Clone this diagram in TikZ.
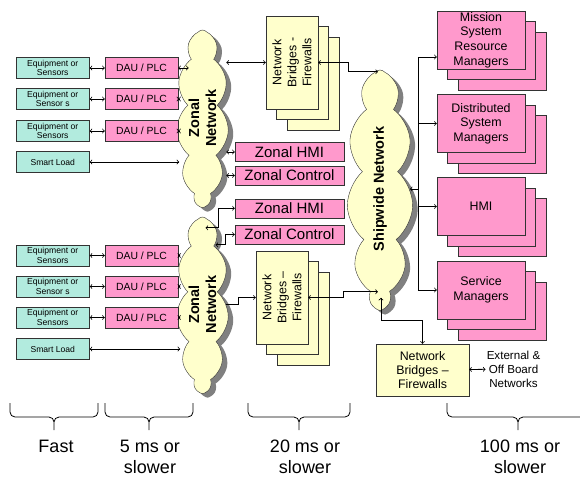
\documentclass[tikz,border=0pt]{standalone}
\usepackage{fontspec}
\setmainfont{Liberation Sans}
\usetikzlibrary{shapes.symbols,calc}

\definecolor{sensteal}{RGB}{178,235,222}
\definecolor{daupink}{RGB}{255,153,204}
\definecolor{bridgeyel}{RGB}{255,255,204}
\definecolor{shadegrey}{RGB}{128,128,128}

\tikzset{
	eqbox/.style={draw=black!80,fill=sensteal,inner sep=0pt,minimum width=73.5pt,minimum height=21pt,align=center,font=\fontsize{8.6}{9.4}\selectfont},
	daubox/.style={draw=black!80,fill=daupink,inner sep=0pt,minimum width=73pt,minimum height=21pt,font=\fontsize{10.4}{12}\selectfont},
	zbox/.style={draw=black!80,fill=daupink,inner sep=0pt,minimum width=109pt,minimum height=19pt,font=\fontsize{15}{17}\selectfont},
	mgrbox/.style={draw=black!80,fill=daupink,inner sep=0pt,minimum width=88pt,minimum height=58pt,align=center,font=\fontsize{12.4}{14.6}\selectfont},
	nbbox/.style={draw=black!80,fill=bridgeyel,inner sep=0pt,minimum width=52pt,minimum height=93pt},
	nbtext/.style={rotate=90,align=center,font=\fontsize{12.4}{15}\selectfont},
	netcloud/.style={cloud,cloud puffs=11,cloud puff arc=100,cloud ignores aspect,draw=black!80,fill=bridgeyel,inner sep=0pt},
	cloudshade/.style={netcloud,draw=none,fill=shadegrey},
	cloudtext/.style={rotate=90,align=center,font=\bfseries\fontsize{14.5}{17}\selectfont},
	timetext/.style={anchor=north,inner sep=0pt,align=center,font=\fontsize{18}{21}\selectfont},
	link/.style={line width=.8pt,>=to}
}

\begin{document}
\begin{tikzpicture}[x=1pt,y=-1pt]
	\useasboundingbox (0,0) rectangle (580,477);

	% network clouds
	\node [cloudshade,minimum width=52pt,minimum height=176pt] (zone1sh) at (207.5,122) {};
	\node [netcloud,minimum width=52pt,minimum height=176pt] (zone1) at (202.5,118) {};
	\node [cloudtext] (zone1txt) at (zone1) {Zonal\\Network};
	\node [cloudshade,minimum width=52pt,minimum height=175pt] (zone2sh) at (207.5,308.5) {};
	\node [netcloud,minimum width=52pt,minimum height=175pt] (zone2) at (202.5,304.5) {};
	\node [cloudtext] (zone2txt) at (zone2) {Zonal\\Network};
	\node [cloudshade,minimum width=66pt,minimum height=238pt] (shipsh) at (385,193) {};
	\node [netcloud,minimum width=66pt,minimum height=238pt] (ship) at (380,189) {};
	\node [cloudtext] (shiptxt) at (ship) {Shipwide Network};

	% upper zone
	\node [eqbox] (eq1) at (52.75,68) {Equipment or\\Sensors};
	\node [eqbox] (eq2) at (52.75,99) {Equipment or\\Sensor s};
	\node [eqbox] (eq3) at (52.75,131) {Equipment or\\Sensors};
	\node [eqbox] (load1) at (52.75,162) {Smart Load};
	\node [daubox] (dau1) at (141.5,68) {DAU / PLC};
	\node [daubox] (dau2) at (141.5,99) {DAU / PLC};
	\node [daubox] (dau3) at (141.5,131) {DAU / PLC};

	% lower zone
	\node [eqbox] (eq4) at (52.75,255.5) {Equipment or\\Sensors};
	\node [eqbox] (eq5) at (52.75,286.5) {Equipment or\\Sensor s};
	\node [eqbox] (eq6) at (52.75,317.5) {Equipment or\\Sensors};
	\node [eqbox] (load2) at (52.75,349) {Smart Load};
	\node [daubox] (dau4) at (141.5,255.5) {DAU / PLC};
	\node [daubox] (dau5) at (141.5,286.5) {DAU / PLC};
	\node [daubox] (dau6) at (141.5,317.5) {DAU / PLC};

	\node [zbox] (zhmi1) at (289.5,152) {Zonal HMI};
	\node [zbox] (zctl1) at (289.5,175.5) {Zonal Control};
	\node [zbox] (zhmi2) at (289.5,208.3) {Zonal HMI};
	\node [zbox] (zctl2) at (289.5,234.5) {Zonal Control};

	% bridge stacks
	\foreach \d/\k in {21/c,10.5/b} {
		\node [nbbox] (nbtop\k) at ([xshift=\d pt,yshift=-\d pt]292,62.5) {};
		\node [nbbox] (nbbot\k) at ([xshift=\d pt,yshift=-\d pt]282,297.5) {};
	}
	\node [nbbox] (nbtop) at (292,62.5) {};
	\node [nbtext] (nbtoptxt) at (nbtop) {Network\\Bridges -\\Firewalls};
	\node [nbbox] (nbbot) at (282,297.5) {};
	\node [nbtext] (nbbottxt) at (nbbot) {Network\\Bridges --\\Firewalls};

	% manager stacks
	\foreach \n/\y/\t in {msrm/40/{Mission\\System\\Resource\\Managers},dsm/123.5/{Distributed\\System\\Managers},hmi/206.5/HMI,svc/290/{Service\\Managers}} {
		\node [mgrbox] (\n3) at (502,\y+21) {};
		\node [mgrbox] (\n2) at (491.5,\y+10.5) {};
		\node [mgrbox] (\n) at (481,\y) {\t};
	}

	\node [nbbox,minimum width=93pt,minimum height=52pt,align=center,font=\fontsize{12.4}{14}\selectfont] (nbext) at (422.5,370) {Network\\Bridges --\\Firewalls};
	\node [align=center,inner sep=1pt,font=\fontsize{11.6}{14}\selectfont] (extnet) at (513.5,369) {External \&\\Off Board\\Networks};

	% links
	\foreach \i in {1,...,3} \draw [link,<->] (eq\i) -- (dau\i);
	\foreach \i in {4,...,6} \draw [link,<->] (eq\i) -- (dau\i);
	\draw [link,<->] (dau1) -- ($(dau1 -| zone1.west)+(10,0)$);
	\draw [link,<->] (dau2) -- ($(dau2 -| zone1.west)+(.5,0)$);
	\draw [link,<->] (dau3) -- ($(dau3 -| zone1.west)+(.5,0)$);
	\draw [link,<->] (load1) -- ($(load1 -| zone1.west)+(.5,0)$);
	\draw [link,<->] (dau4) -- ($(dau4 -| zone2.west)+(1.5,0)$);
	\draw [link,<->] (dau5) -- ($(dau5 -| zone2.west)+(1.5,0)$);
	\draw [link,<->] (dau6) -- ($(dau6 -| zone2.west)+(1.5,0)$);
	\draw [link,<->] (load2) -- ($(load2 -| zone2.west)+(1.5,0)$);

	\draw [link,<->] (zhmi1 -| zone1.east) -- (zhmi1);
	\draw [link,<->] (zctl1 -| zone1.east) -- (zctl1);
	\draw [link,<->] ($(zone2.north)+(3,11)$) -- ++(13,0) |- (zhmi2);
	\draw [link,<->] ($(zone2.north)+(13,28)$) -- ++(10,0) |- (zctl2);

	\draw [link,<->] (nbtop -| zone1.east) -- (nbtop);
	\draw [link,<->] (nbtop.east) -- ++(30,0) |- ($(ship.north)+(-2,2)$);
	\draw [link,->] (zone2.east) -- ++(12,0) |- (nbbot);
	\draw [link,<->] (nbbot.east) -- ++(35,0) |- ($(ship.south)+(-2,-19)$);
	\draw [link,<->] ($(ship.south)+(1,-13)$) -- ++(0,23) -| (nbext);
	\draw [link,<->] (nbext) -- (extnet);

	\draw [link,<-] (ship.east) -- ++(8,0) coordinate (bus);
	\coordinate (msrmin) at ($(msrm.west)+(0,17)$);
	\draw [link] (bus |- msrmin) -- (bus |- svc);
	\draw [link,->] (bus |- msrmin) -- (msrmin);
	\foreach \n in {dsm,hmi,svc} \draw [link,->] (bus |- \n) -- (\n);

	% time braces
	\foreach \a/\m/\b in {10/54/98,105/149/193,248/299/350,447/518/589}
		\draw [line width=.8pt,rounded corners=5pt] (\a,403) -- (\a,417) -- (\m,417) -- (\m,430) (\b,403) -- (\b,417) -- (\m,417) -- (\m,430);
	\node [timetext] (tfast) at (56,440) {Fast};
	\node [timetext] (t5ms) at (150,440) {5 ms or\\slower};
	\node [timetext] (t20ms) at (305,440) {20 ms or\\slower};
	\node [timetext] (t100ms) at (520,440) {100 ms or\\slower};
\end{tikzpicture}
\end{document}
